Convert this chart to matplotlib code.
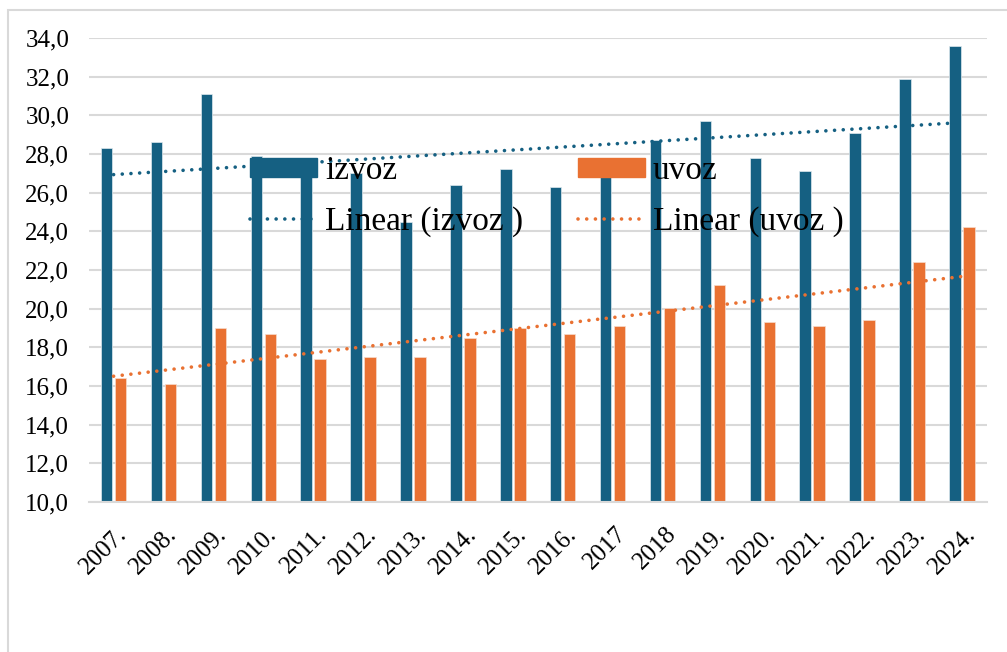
import numpy as np
import matplotlib
matplotlib.use("Agg")
from matplotlib import pyplot as plt
from matplotlib.patches import Rectangle
from matplotlib.lines import Line2D

# Godisnji izvoz i uvoz (vrijednosti po godinama)
years = ["2007.", "2008.", "2009.", "2010.", "2011.", "2012.", "2013.", "2014.", "2015.",
         "2016.", "2017", "2018", "2019.", "2020.", "2021.", "2022.", "2023.", "2024."]
izvoz = [28.3, 28.6, 31.1, 27.9, 26.9, 27.0, 24.5, 26.4, 27.2,
         26.3, 27.0, 28.7, 29.7, 27.8, 27.1, 29.1, 31.9, 33.6]
uvoz = [16.4, 16.1, 19.0, 18.7, 17.4, 17.5, 17.5, 18.5, 19.0,
        18.7, 19.1, 20.05, 21.2, 19.3, 19.1, 19.4, 22.4, 24.2]
y_ticks = [10, 12, 14, 16, 18, 20, 22, 24, 26, 28, 30, 32, 34]

BLUE = "#156082"
ORANGE = "#E97132"
GRID = "#D9D9D9"

plt.rcParams["font.family"] = ["Liberation Serif", "DejaVu Serif"]

fig = plt.figure(figsize=(10.07, 6.52), dpi=100)
ax = fig.add_axes([0.088, 0.230, 0.892, 0.7117])

# outer chart frame
fig.patches.append(Rectangle((8 / 1007, -0.1), 1.2, 1 - 10 / 652 + 0.1,
                             transform=fig.transFigure, fill=False,
                             edgecolor=GRID, linewidth=1.5, zorder=0))

x = np.arange(len(years))
w = 0.23
off = 0.14
ax.bar(x - off, izvoz, w, bottom=0, color=BLUE, edgecolor="#dfe9ee",
       linewidth=0.5, zorder=2)
ax.bar(x + off, uvoz, w, bottom=0, color=ORANGE, edgecolor="#f7dccd",
       linewidth=0.5, zorder=2)

# linear trendlines
dots = (0, (0.01, 2.4))
for vals, col in [(izvoz, BLUE), (uvoz, ORANGE)]:
    k, n = np.polyfit(x, vals, 1)
    ax.plot(x, k * x + n, color=col, linewidth=2.6, linestyle=dots,
            dash_capstyle="round", zorder=3)

ax.set_xlim(-0.5, len(years) - 0.5)
ax.set_ylim(10, 34)
ax.set_yticks(y_ticks)
ax.set_yticklabels([f"{v:.1f}".replace(".", ",") for v in y_ticks])
ax.set_xticks(x + 0.05)
ax.set_xticklabels(years, rotation=45, ha="right", rotation_mode="anchor")
ax.tick_params(axis="both", length=0, labelsize=18)
ax.tick_params(axis="y", pad=14)
ax.tick_params(axis="x", pad=15)
ax.grid(axis="y", color=GRID, linewidth=1.5, zorder=0)
ax.set_axisbelow(True)
for s in ["left", "right", "top"]:
    ax.spines[s].set_visible(False)
ax.spines["bottom"].set_color(GRID)
ax.spines["bottom"].set_linewidth(1.5)

handles = [
    Rectangle((0, 0), 1, 1, color=BLUE),
    Line2D([], [], color=BLUE, linewidth=2.6, linestyle=dots, dash_capstyle="round"),
    Rectangle((0, 0), 1, 1, color=ORANGE),
    Line2D([], [], color=ORANGE, linewidth=2.6, linestyle=dots, dash_capstyle="round"),
]
labels = ["izvoz", "Linear (izvoz )", "uvoz", "Linear (uvoz )"]
leg = fig.legend(handles, labels, ncol=2, loc="center",
                 bbox_to_anchor=(0.543, 0.699), frameon=False, fontsize=24,
                 handlelength=2.0, handleheight=0.5, handletextpad=0.25,
                 columnspacing=1.65, labelspacing=0.6, borderpad=0)
leg.set_zorder(5)

fig.savefig("out.png", dpi=100)
